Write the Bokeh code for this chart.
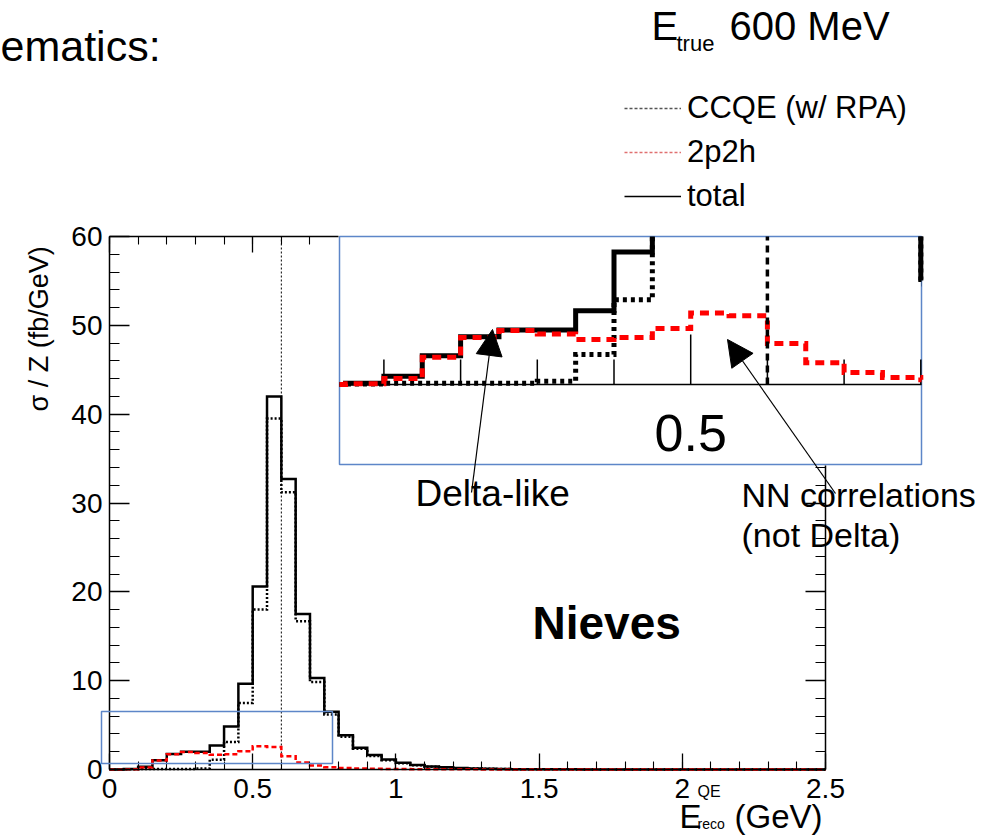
import numpy as np
from bokeh.plotting import figure
from bokeh.layouts import column
from bokeh.models import (Range1d, LinearAxis, SingleIntervalTicker, CustomJSTickFormatter,
                          Label, Arrow, NormalHead, BoxAnnotation, Legend, LegendItem)
from bokeh.embed import file_html
from bokeh.resources import INLINE

# ---------------- data ----------------
E_TRUE = 0.6            # GeV, true neutrino energy
BIN_WIDTH = 0.05        # GeV
N_BINS = 50
bin_edges = np.round(np.arange(N_BINS + 1) * BIN_WIDTH, 2)

total = [0.0, 0.05, 0.3, 1.05, 1.75, 2.0, 2.0, 2.7, 4.85, 9.65,
         20.6, 42.0, 32.7, 17.5, 10.3, 6.5, 3.85, 2.45, 1.62, 1.12,
         0.76, 0.52, 0.35, 0.24, 0.17, 0.12, 0.085, 0.06, 0.04, 0.03,
         0.02, 0.02, 0.015, 0.01, 0.01, 0.01, 0.008, 0.006, 0.005, 0.004,
         0.003, 0.003, 0.002, 0.002, 0.002, 0.001, 0.001, 0.001, 0.001, 0.001]

ccqe = [0.0, 0.02, 0.05, 0.05, 0.05, 0.05, 0.12, 1.1, 3.1, 7.5,
        18.0, 39.5, 31.2, 16.7, 9.85, 6.2, 3.68, 2.33, 1.53, 1.05,
        0.71, 0.48, 0.32, 0.22, 0.15, 0.105, 0.073, 0.05, 0.032, 0.024,
        0.015, 0.015, 0.011, 0.007, 0.007, 0.007, 0.006, 0.004, 0.004, 0.003,
        0.002, 0.002, 0.0015, 0.0015, 0.0015, 0.001, 0.001, 0.001, 0.001, 0.001]

twop2h = [0.0, 0.03, 0.22, 1.0, 1.72, 1.98, 1.85, 1.65, 1.72, 2.05,
          2.62, 2.52, 1.5, 0.8, 0.44, 0.26, 0.17, 0.12, 0.09, 0.07,
          0.05, 0.04, 0.03, 0.025, 0.02, 0.015, 0.012, 0.01, 0.008, 0.006,
          0.005, 0.005, 0.004, 0.003, 0.003, 0.003, 0.002, 0.002, 0.001, 0.001,
          0.001, 0.001, 0.001, 0.001, 0.001, 0.0, 0.0, 0.0, 0.0, 0.0]

X_MAX = 2.5
Y_MAX = 60
inset_tick_values = [0.1, 0.2, 0.3, 0.4, 0.5, 0.6, 0.7, 0.8]
legend_labels = ["CCQE (w/ RPA)", "2p2h", "total"]

# ---------------- layout helpers (page pixels) ----------------
OX, OY = 1, 1            # where the page places the first figure
W = 980
HEAD_H = 220             # header strip height
MAIN_TOP = OY + HEAD_H   # page y where main figure starts
MAIN_H = 837 - MAIN_TOP

AX_L, AX_B = 110, 770    # page position of (0, 0) of the histogram
PX_X = 716 / 2.5         # px per GeV
PX_Y = 533 / 60.0        # px per unit


def X(sx):
    return (sx - AX_L) / PX_X


def Y(sy):
    return (AX_B - sy) / PX_Y


# inset mapping: inset x=0.1 at page x 384.4, 767 px/GeV; inset y=0 at page y 385, 27.3 px/unit
IX_PX, IX_REF_V, IX_REF_S = 767.0, 0.1, 384.4
IY_PX, IY_BASE = 27.3, 385.0


def IXv(sx):
    return IX_REF_V + (sx - IX_REF_S) / IX_PX


def IYv(sy):
    return (IY_BASE - sy) / IY_PX


IN_L, IN_R, IN_B, IN_T = IXv(340), IXv(922), IYv(465), IYv(237)

BLUE = "#5d86c8"
FONT = "Liberation Sans"

# ================= header figure (title + legend) =================
h = figure(width=W, height=HEAD_H, x_range=Range1d(OX, OX + W), y_range=Range1d(OY + HEAD_H, OY),
           x_axis_type=None, y_axis_type=None, output_backend="svg", toolbar_location=None,
           min_border=0)
h.outline_line_color = None
h.background_fill_color = "white"
h.border_fill_color = "white"


def hlab(sx, base, text, size, **kw):
    # base = page y of the text baseline; anchor at the text middle
    h.add_layout(Label(x=sx, y=base - 0.35 * size, text=text, text_font=FONT,
                       text_font_size=f"{size}px", text_color="black",
                       text_baseline="middle", **kw))


hlab(OX, 62, "ematics:", 43)
hlab(652, 40, "E", 40)
hlab(677, 52, "true", 22)
hlab(730, 40, "600 MeV", 40)

NO_POINT = np.array([np.nan])
r_cc = h.line(x=NO_POINT, y=NO_POINT, line_color="#555555", line_width=1.5, line_dash="3 2")
r_2p = h.line(x=NO_POINT, y=NO_POINT, line_color="#e07070", line_width=1.5, line_dash="3 2")
r_tot = h.line(x=NO_POINT, y=NO_POINT, line_color="black", line_width=1.5)
legend = Legend(items=[LegendItem(label=legend_labels[0], renderers=[r_cc]),
                       LegendItem(label=legend_labels[1], renderers=[r_2p]),
                       LegendItem(label=legend_labels[2], renderers=[r_tot])],
                location=(625 - OX, OY + HEAD_H - 219))
legend.label_text_font = FONT
legend.label_text_font_size = "31px"
legend.label_text_color = "black"
legend.glyph_width = 57
legend.glyph_height = 44
legend.label_height = 44
legend.label_standoff = 6
legend.spacing = 0
legend.padding = 0
legend.margin = 0
legend.border_line_color = None
legend.background_fill_alpha = 0
h.add_layout(legend)

# ================= main figure =================
p = figure(width=W, height=MAIN_H,
           x_range=Range1d(X(OX), X(OX + W)), y_range=Range1d(Y(MAIN_TOP + MAIN_H), Y(MAIN_TOP)),
           x_axis_type=None, y_axis_type=None,
           output_backend="svg", toolbar_location=None, min_border=0)
p.outline_line_color = None
p.background_fill_color = "white"
p.border_fill_color = "white"
p.extra_x_ranges = {"ix": Range1d(IXv(OX), IXv(OX + W))}
p.extra_y_ranges = {"iy": Range1d(IYv(MAIN_TOP + MAIN_H), IYv(MAIN_TOP))}


def style_axis(ax, major_in, minor_in, standoff, labels=True):
    ax.major_tick_in = major_in
    ax.major_tick_out = 0
    ax.minor_tick_in = minor_in
    ax.minor_tick_out = 0
    ax.axis_line_color = "black"
    ax.axis_line_width = 1.5
    ax.major_tick_line_color = "black"
    ax.major_tick_line_width = 1.3
    ax.minor_tick_line_color = "black"
    ax.minor_tick_line_width = 1.1
    ax.major_label_text_font = FONT
    ax.major_label_text_font_size = "28px"
    ax.major_label_text_color = "black" if labels else None
    ax.major_label_standoff = standoff


fmt = CustomJSTickFormatter(code="return String(Math.round(tick*10)/10);")
xaxis = LinearAxis(ticker=SingleIntervalTicker(interval=0.5, num_minor_ticks=5),
                   formatter=fmt, bounds=(0, X_MAX), fixed_location=0)
style_axis(xaxis, 16, 8, 9)
p.add_layout(xaxis, "below")

yaxis = LinearAxis(ticker=SingleIntervalTicker(interval=10, num_minor_ticks=5),
                   bounds=(0, Y_MAX), fixed_location=0)
style_axis(yaxis, 20, 10, 7)
p.add_layout(yaxis, "left")

topaxis = LinearAxis(ticker=SingleIntervalTicker(interval=0.5, num_minor_ticks=5),
                     bounds=(0, X(339)), fixed_location=Y_MAX)
style_axis(topaxis, 16, 8, 2, labels=False)
p.add_layout(topaxis, "above")

rightaxis = LinearAxis(ticker=SingleIntervalTicker(interval=10, num_minor_ticks=5),
                       bounds=(0, Y(466)), fixed_location=X_MAX)
style_axis(rightaxis, 20, 10, 2, labels=False)
p.add_layout(rightaxis, "right")


def stepy(v):
    return list(v) + [v[-1]]


# main histograms
p.segment(x0=[E_TRUE], y0=[0], x1=[E_TRUE], y1=[Y_MAX], line_color="black", line_width=1,
          line_dash="2 2")
p.step(bin_edges, stepy(total), mode="after", line_color="black", line_width=2.5,
       line_join="miter")
p.step(bin_edges, stepy(ccqe), mode="after", line_color="black", line_width=2.5,
       line_dash="2 2", line_join="miter")
p.step(bin_edges, stepy(twop2h), mode="after", line_color="red", line_width=2.5,
       line_dash="5 3", line_join="miter")

p.add_layout(BoxAnnotation(left=X(102), right=X(333), top=Y(712), bottom=Y(764),
                           fill_color=None, line_color=BLUE, line_alpha=1.0, line_width=1.5))

# ---------------- inset (magnified low region) ----------------
R = dict(x_range_name="ix", y_range_name="iy")


def inset_step_path(vals):
    """Step outline restricted to the inset box (breaks where it leaves the top)."""
    xs, ys = [], []
    for i, v in enumerate(vals):
        a, b = bin_edges[i], bin_edges[i + 1]
        if b <= IN_L or a >= IN_R:
            continue
        a, b = max(a, IN_L), min(b, IN_R)
        if v > IN_T:
            xs += [a, np.nan, b]
            ys += [IN_T, np.nan, IN_T]
        else:
            xs += [a, b]
            ys += [v, v]
    return np.array(xs, dtype=float), np.array(ys, dtype=float)


p.quad(left=[IN_L], right=[IN_R], bottom=[IN_B], top=[IN_T], fill_color="white",
       line_color=BLUE, line_width=1.5, **R)
p.segment(x0=[IN_L], y0=[0], x1=[IN_R], y1=[0], line_color="black", line_width=1.5, **R)
p.ray(x=inset_tick_values, y=[0] * len(inset_tick_values),
      length=[50 if abs(t - 0.5) < 1e-9 else 25 for t in inset_tick_values],
      length_units="screen", angle=np.pi / 2, line_color="black", line_width=1.5, **R)
for vals, col, dash in ((total, "black", "solid"), (ccqe, "black", "4 4"),
                        (twop2h, "red", "9 6")):
    xs, ys = inset_step_path(vals)
    p.line(xs, ys, line_color=col, line_width=5, line_dash=dash, line_join="miter", **R)
p.segment(x0=[E_TRUE], y0=[0], x1=[E_TRUE], y1=[IN_T], line_color="black", line_width=3.5,
          line_dash="7 5", **R)
p.add_layout(Label(x=0.5, y=IYv(433), text="0.5", text_align="center", text_baseline="middle",
                   text_font=FONT, text_font_size="52px", text_color="black", **R))


# ---------------- texts & arrows ----------------
def lab(sx, base, text, size, **kw):
    # base = page y of the baseline (anchor placed at the text middle)
    p.add_layout(Label(x=X(sx), y=Y(base - 0.35 * size), text=text, text_font=FONT,
                       text_font_size=f"{size}px", text_color="black",
                       text_baseline="middle", **kw))


p.add_layout(Label(x=X(39), y=Y(412), text="σ / Z (fb/GeV)", angle=np.pi / 2,
                   text_font=FONT, text_font_size="27px", text_color="black",
                   text_baseline="middle", text_align="left"))
lab(680, 829, "E", 33)
lab(698, 798, "QE", 16)
lab(698, 829, "reco", 14)
lab(735, 829, "(GeV)", 33)
lab(533, 640, "Nieves", 46, text_font_style="bold")
lab(416, 507, "Delta-like", 37)
lab(742, 507, "NN correlations", 34)
lab(742, 547, "(not Delta)", 34)

p.add_layout(Arrow(end=NormalHead(size=26, fill_color="black", line_color="black"),
                   x_start=X(472), y_start=Y(493), x_end=X(493), y_end=Y(330),
                   line_color="black", line_width=1.2))
p.add_layout(Arrow(end=NormalHead(size=26, fill_color="black", line_color="black"),
                   x_start=X(836), y_start=Y(494), x_end=X(728), y_end=Y(340),
                   line_color="black", line_width=1.2))

layout = column(h, p, spacing=0)
open("out.html", "w").write(file_html(layout, INLINE))
